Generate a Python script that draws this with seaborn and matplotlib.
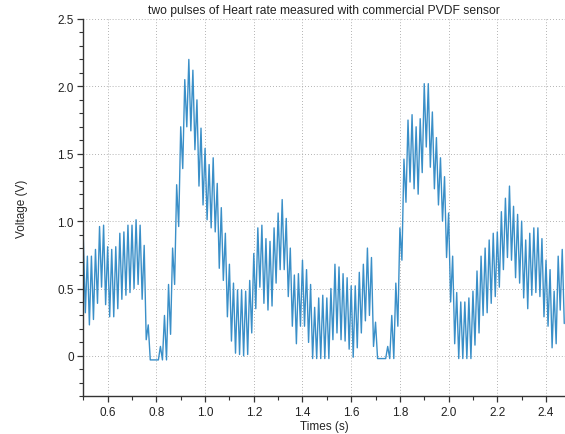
import numpy as np
import pandas as pd
import matplotlib
matplotlib.use("Agg")
import matplotlib.pyplot as plt
import seaborn as sns
from matplotlib.ticker import MultipleLocator, FixedLocator, FixedFormatter

# ---- data (peak / trough values of the 60 Hz ripple) ----
t_start = 0.5          # s
sample_rate = 120.0    # values per second (one per half ripple cycle)

baseline_1 = [0.87, 0.32, 0.74, 0.23, 0.74, 0.27, 0.79, 0.39, 0.96, 0.51,
              0.97, 0.38, 0.81, 0.29, 0.79, 0.29, 0.81, 0.35, 0.91, 0.42,
              0.92, 0.45, 0.97, 0.47, 0.97, 0.50, 1.01, 0.53, 0.97, 0.42,
              0.82, 0.12, 0.23, -0.03, -0.03, -0.03, -0.03, -0.03]

pulse_1 = [0.07, -0.03, 0.30, -0.03, 0.53, 0.16, 0.80, 0.53, 1.27, 0.96,
           1.70, 1.39, 2.05, 1.70, 2.20, 1.67, 2.12, 1.53, 1.90, 1.26,
           1.69, 1.12, 1.54, 1.01, 1.42, 0.95, 1.47, 0.92, 1.28, 0.65,
           1.10, 0.56, 0.91, 0.29, 0.68, 0.11, 0.54, 0.02, 0.49, 0.01,
           0.49, 0.00, 0.48, 0.01, 0.56, 0.17, 0.76, 0.35, 0.95, 0.51,
           0.97, 0.39, 0.87, 0.34, 0.85, 0.37, 0.95, 0.54, 1.06, 0.64,
           1.16, 0.64, 1.02, 0.44, 0.80, 0.22]

interval = [0.60, 0.09, 0.61, 0.22, 0.71, 0.22, 0.64, 0.10, 0.53, -0.02,
            0.36, -0.02, 0.43, -0.02, 0.45, -0.02, 0.43, -0.02, 0.50, 0.12,
            0.68, 0.17, 0.66, 0.12, 0.61, 0.11, 0.58, 0.05, 0.52, -0.01,
            0.52, 0.06, 0.62, 0.17, 0.68, 0.26, 0.80, 0.30, 0.73, 0.07,
            0.25, -0.02, -0.02, -0.02, -0.02, -0.02, 0.07, -0.02, 0.30, -0.02]

pulse_2 = [0.54, 0.22, 0.95, 0.71, 1.46, 1.14, 1.75, 1.29, 1.79, 1.24,
           1.70, 1.20, 1.76, 1.36, 2.02, 1.55, 2.02, 1.40, 1.81, 1.24,
           1.62, 1.12, 1.47, 1.00, 1.33, 0.73, 1.06, 0.40, 0.74, 0.09,
           0.47, -0.02, 0.40, -0.02, 0.40, -0.02, 0.43, -0.02, 0.48, 0.08,
           0.63, 0.17, 0.74, 0.30, 0.80, 0.32, 0.86, 0.39, 0.91, 0.44]

tail = [0.92, 0.51, 1.07, 0.64, 1.17, 0.73, 1.26, 0.71, 1.11, 0.58,
        1.05, 0.54, 1.00, 0.43, 0.86, 0.35, 0.91, 0.45, 0.95, 0.47,
        0.95, 0.44, 0.87, 0.29, 0.71, 0.22, 0.64, 0.06, 0.48, 0.09,
        0.74, 0.34, 0.79, 0.24]

x_ticks = [0.6, 0.8, 1.0, 1.2, 1.4, 1.6, 1.8, 2.0, 2.2, 2.4]
x_tick_labels = ["0.6", "0.8", "1.0", "1.2", "1.4", "1.6", "1.8", "2.0", "2.2", "2.4"]
y_ticks = [0.0, 0.5, 1.0, 1.5, 2.0, 2.5]
y_tick_labels = ["0", "0.5", "1.0", "1.5", "2.0", "2.5"]

title = "two pulses of Heart rate measured with commercial PVDF sensor"
x_label = "Times (s)"
y_label = "Voltage (V)"

voltage = np.array(baseline_1 + pulse_1 + interval + pulse_2 + tail)
times = t_start + np.arange(len(voltage)) / sample_rate
df = pd.DataFrame({"t": times, "v": voltage})

# ---- plot ----
sns.set_theme(style="ticks")
plt.rcParams["font.family"] = ["Liberation Sans", "DejaVu Sans"]
plt.rcParams["text.color"] = "#222222"

W, H = 565, 435
fig = plt.figure(figsize=(W / 100, H / 100), dpi=100)
left, right, top, bottom = 83.3, 565.0, 20.0, 397.3
ax = fig.add_axes([left / W, 1 - bottom / H, (right - left) / W, (bottom - top) / H])

sns.lineplot(data=df, x="t", y="v", ax=ax, color="#3a8fc8", linewidth=1.0,
             estimator=None, sort=False)

ax.set_xlim(0.5, 2.478)
ax.set_ylim(-0.3, 2.5)

ax.xaxis.set_major_locator(FixedLocator(x_ticks))
ax.xaxis.set_major_formatter(FixedFormatter(x_tick_labels))
ax.yaxis.set_major_locator(FixedLocator(y_ticks))
ax.yaxis.set_major_formatter(FixedFormatter(y_tick_labels))
ax.xaxis.set_minor_locator(MultipleLocator(0.1))
ax.yaxis.set_minor_locator(MultipleLocator(0.1))

ax.grid(True, which="major", linestyle=(0, (1, 2.5)), color="#9a9a9a", linewidth=0.6)
ax.set_axisbelow(True)

sns.despine(ax=ax)
for s in ("left", "bottom"):
    ax.spines[s].set_color("#333333")
    ax.spines[s].set_linewidth(1.0)

ax.tick_params(which="major", direction="out", length=4.5, width=0.9,
               color="#333333", labelsize=8.5, labelcolor="#222222", pad=2.2)
ax.tick_params(which="minor", direction="out", length=2.8, width=0.8, color="#333333")

ax.set_title(title, fontsize=8.7, pad=4)
ax.set_xlabel(x_label, fontsize=8.5, labelpad=2)
ax.set_ylabel(y_label, fontsize=8.5, labelpad=21)

fig.savefig("out.png", dpi=100)
